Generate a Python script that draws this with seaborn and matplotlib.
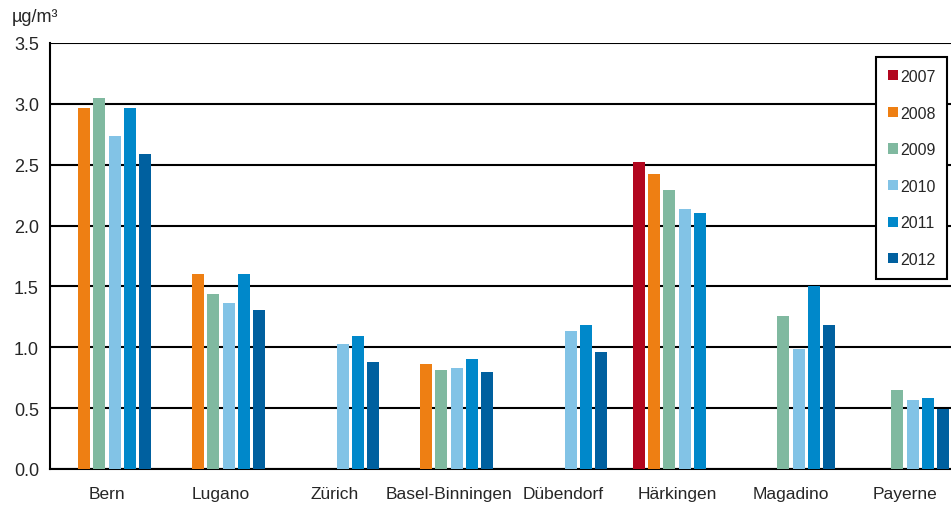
import numpy as np
import pandas as pd
import seaborn as sns
import matplotlib.pyplot as plt

stations = ["Bern", "Lugano", "Zürich", "Basel-Binningen", "Dübendorf",
            "Härkingen", "Magadino", "Payerne"]
years = ["2007", "2008", "2009", "2010", "2011", "2012"]
nan = np.nan
v2007 = [nan, nan, nan, nan, nan, 2.52, nan, nan]
v2008 = [2.97, 1.60, nan, 0.86, nan, 2.42, nan, nan]
v2009 = [3.05, 1.44, nan, 0.81, nan, 2.29, 1.26, 0.65]
v2010 = [2.74, 1.36, 1.03, 0.83, 1.13, 2.14, 0.99, 0.57]
v2011 = [2.97, 1.60, 1.09, 0.90, 1.18, 2.10, 1.50, 0.58]
v2012 = [2.59, 1.31, 0.88, 0.80, 0.96, nan, 1.18, 0.49]
colors = ["#B2071F", "#EE7F13", "#80B9A0", "#82C3E6", "#0088CA", "#00609F"]

rows = []
for year, vals in zip(years, [v2007, v2008, v2009, v2010, v2011, v2012]):
    for st, v in zip(stations, vals):
        rows.append({"station": st, "year": year, "value": v})
df = pd.DataFrame(rows).dropna()

sns.set_style("white")
plt.rcParams["font.family"] = ["Liberation Sans", "DejaVu Sans"]

fig = plt.figure(figsize=(9.51, 5.06), dpi=100)
ax = fig.add_axes([50 / 951, 36 / 506, 912 / 951, 426 / 506])

sns.barplot(data=df, x="station", y="value", hue="year", order=stations,
            hue_order=years, palette=colors, gap=0.2, saturation=1,
            linewidth=0, ax=ax, zorder=3)

ax.set_ylim(0, 3.5)
ax.set_xlim(-0.5, 7.5)
ax.set_yticks(np.arange(0, 3.51, 0.5))
ax.set_yticklabels([f"{t:.1f}" for t in np.arange(0, 3.51, 0.5)], fontsize=13)
ax.xaxis.grid(False, which="both")
ax.yaxis.grid(True, color="black", linewidth=1.5)
ax.set_axisbelow(True)
ax.tick_params(axis="y", length=5, width=1.5, color="black", pad=3)

ax.set_xticks(range(len(stations)))
ax.set_xticklabels(stations, fontsize=12.5)
ax.set_xticks(np.arange(-0.5, 8, 1), minor=True)
ax.tick_params(axis="x", which="major", length=0, pad=12)
ax.tick_params(axis="x", which="minor", length=6, width=1.5, color="black")
ax.set_xlabel("")
ax.set_ylabel("")

for side in ["top", "right"]:
    ax.spines[side].set_visible(False)
for side in ["left", "bottom"]:
    ax.spines[side].set_color("black")
    ax.spines[side].set_linewidth(1.5)

fig.text(12 / 951, 1 - 18 / 506, "µg/m³", fontsize=13, va="center", ha="left")

handles, labels = ax.get_legend_handles_labels()
leg = ax.legend(handles, labels, loc="upper left",
                bbox_to_anchor=((876 - 50) / 912, 1 - 14 / 426), fontsize=11.5,
                frameon=True, fancybox=False, handlelength=0.6,
                handleheight=0.6, handletextpad=0.15, labelspacing=1.35,
                borderpad=0.75, borderaxespad=0)
leg.get_frame().set_edgecolor("black")
leg.get_frame().set_linewidth(1.5)
leg.get_frame().set_alpha(1)

fig.savefig("out.png", dpi=100)
